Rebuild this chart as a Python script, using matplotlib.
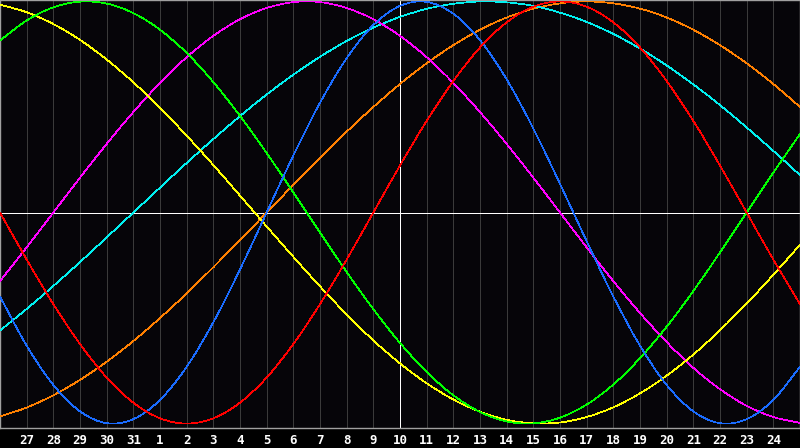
import matplotlib
matplotlib.use("Agg")
import matplotlib.pyplot as plt
from matplotlib.path import Path
from matplotlib.patches import PathPatch
import numpy as np

# day labels for the 31 columns (index 0 and 30 are unlabeled edges)
day_labels = ['26', '27', '28', '29', '30', '31', '1', '2', '3', '4', '5', '6', '7', '8', '9',
              '10', '11', '12', '13', '14', '15', '16', '17', '18', '19', '20', '21', '22', '23',
              '24', '25']

# cycle values in percent, one per day
red = [0, -22.3, -43.4, -62.3, -78.2, -90.1, -97.5, -100, -97.5, -90.1, -78.2, -62.3, -43.4,
       -22.3, 0, 22.3, 43.4, 62.3, 78.2, 90.1, 97.5, 100, 97.5, 90.1, 78.2, 62.3, 43.4, 22.3,
       0, -22.3, -43.4]
blue = [-39.8, -63.1, -81.7, -94.2, -99.8, -97.9, -88.8, -73.1, -52.0, -27.0, 0, 27.0, 52.0,
        73.1, 88.8, 97.9, 99.8, 94.2, 81.7, 63.1, 39.8, 13.6, -13.6, -39.8, -63.1, -81.7,
        -94.2, -99.8, -97.9, -88.8, -73.1]
green = [81.5, 91.0, 97.2, 99.9, 99.0, 94.5, 86.6, 75.6, 61.8, 45.8, 28.2, 9.5, -9.5, -28.2,
         -45.8, -61.8, -75.6, -86.6, -94.5, -99.0, -99.9, -97.2, -91.0, -81.5, -69.0, -54.1,
         -37.2, -18.9, 0, 18.9, 37.2]
magenta = [-32.5, -16.5, 0, 16.5, 32.5, 47.6, 61.4, 73.6, 83.7, 91.6, 96.9, 99.7, 99.7, 96.9,
           91.6, 83.7, 73.6, 61.4, 47.6, 32.5, 16.5, 0, -16.5, -32.5, -47.6, -61.4, -73.6,
           -83.7, -91.6, -96.9, -99.7]
yellow = [98.5, 94.9, 89.3, 81.8, 72.5, 61.7, 49.6, 36.4, 22.5, 8.0, -6.6, -21.0, -35.0,
          -48.3, -60.6, -71.5, -80.9, -88.6, -94.4, -98.2, -99.9, -99.5, -96.9, -92.3, -85.7,
          -77.3, -67.3, -55.8, -43.1, -29.5, -15.3]
cyan = [-55.9, -45.7, -34.8, -23.5, -11.8, 0, 11.8, 23.5, 34.8, 45.7, 55.9, 65.3, 73.8, 81.3,
        87.6, 92.7, 96.5, 98.9, 100.0, 99.6, 97.9, 94.7, 90.3, 84.6, 77.7, 69.7, 60.7, 50.9,
        40.3, 29.2, 17.7]
orange = [-96.6, -92.4, -86.6, -79.3, -70.7, -60.9, -50.0, -38.3, -25.9, -13.1, 0, 13.1,
          25.9, 38.3, 50.0, 60.9, 70.7, 79.3, 86.6, 92.4, 96.6, 99.1, 100, 99.1, 96.6, 92.4,
          86.6, 79.3, 70.7, 60.9, 50.0]

series = [
    (orange, '#ff8000'),
    (cyan, '#00f0f0'),
    (magenta, '#ff00ff'),
    (yellow, '#ffff00'),
    (green, '#00ff00'),
    (blue, '#1a6cff'),
    (red, '#ff0000'),
]

days = np.arange(len(day_labels))
today = 15


def smooth_path(x, y):
    # catmull-rom through the daily points, as cubic bezier segments
    p = np.column_stack([x, y]).astype(float)
    ext = np.vstack([2 * p[0] - p[1], p, 2 * p[-1] - p[-2]])
    verts = [p[0]]
    codes = [Path.MOVETO]
    for k in range(len(p) - 1):
        p0, p1, p2, p3 = ext[k], ext[k + 1], ext[k + 2], ext[k + 3]
        verts += [p1 + (p2 - p0) / 6, p2 - (p3 - p1) / 6, p2]
        codes += [Path.CURVE4] * 3
    return Path(verts, codes)


fig = plt.figure(figsize=(8, 4.48), dpi=100, facecolor='#000000')
ax = fig.add_axes([0, 20 / 448, 1, 428 / 448])
ax.set_facecolor('#060509')

# daily grid
for d in days[1:-1]:
    ax.axvline(d, color='#3a3a3a', lw=0.6, antialiased=False, zorder=1)

ax.axhline(0, color='white', lw=0.6, antialiased=False, zorder=2)
ax.axvline(today, color='white', lw=0.6, antialiased=False, zorder=2)

for vals, col in series:
    ax.add_patch(PathPatch(smooth_path(days, vals), fill=False, edgecolor=col,
                           lw=0.5, antialiased=False, zorder=3))

ax.set_xlim(0, 30)
ax.set_ylim(-102.1, 100.7)
ax.set_yticks([])
ax.set_xticks(days[1:-1])
ax.set_xticklabels(day_labels[1:-1], color='white', fontsize=9, fontweight='bold',
                   family='DejaVu Sans Mono')
ax.tick_params(axis='x', length=0, pad=4)

for s in ax.spines.values():
    s.set_color('#a0a0a0')
    s.set_linewidth(1.0)

fig.savefig('out.png', dpi=100, facecolor=fig.get_facecolor())
